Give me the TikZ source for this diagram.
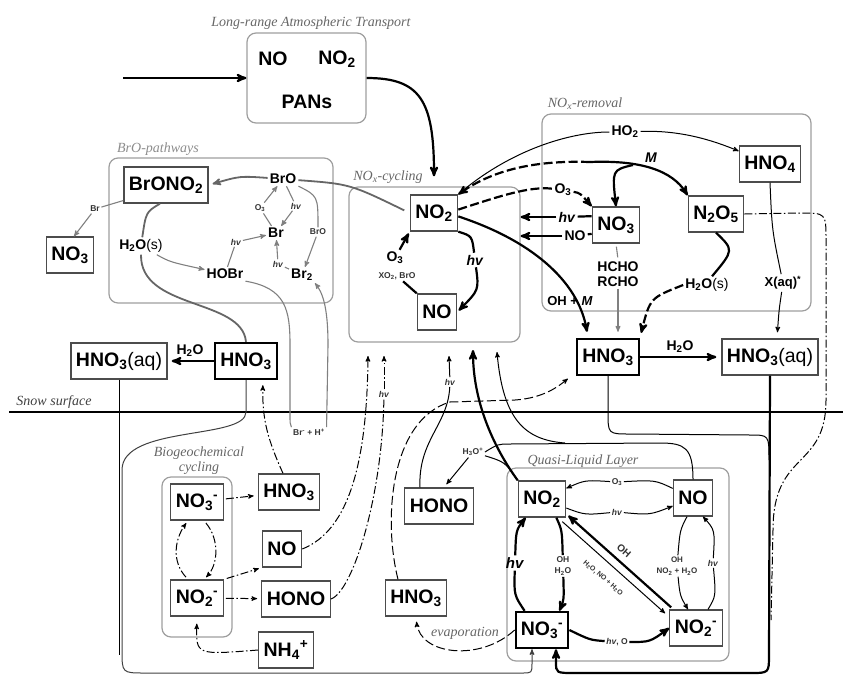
\documentclass[tikz,border=0pt]{standalone}
\usepackage{fontspec}
\setmainfont{Liberation Serif}
\setsansfont{Liberation Sans}
\usetikzlibrary{arrows}

\newcommand{\chsub}[1]{\textsubscript{#1}}
\newcommand{\chsup}[1]{\textsuperscript{#1}}
\newcommand{\hv}{\textit{hv}}

\definecolor{boxline}{gray}{0.3}
\definecolor{grpline}{gray}{0.62}
\definecolor{grptext}{gray}{0.4}
\definecolor{brline}{gray}{0.5}

\tikzset{
  spec/.style={draw=boxline, line width=1.3pt, inner xsep=5pt, inner ysep=3pt,
    minimum height=36pt, font=\sffamily\bfseries\fontsize{19.5}{21}\selectfont},
  specthick/.style={spec, draw=black, line width=2.4pt},
  bare/.style={inner sep=1pt, font=\sffamily\bfseries\fontsize{19.5}{21}\selectfont},
  grp/.style={draw=grpline, line width=1.2pt, rounded corners=9pt},
  grplab/.style={text=grptext, inner sep=1pt, font=\itshape\fontsize{14}{15}\selectfont},
  lab/.style={inner sep=2pt, font=\sffamily\bfseries\fontsize{14}{15}\selectfont},
  lbsmall/.style={inner sep=1.5pt, text=black!80, font=\sffamily\bfseries\fontsize{8.5}{11}\selectfont},
  thk/.style={line width=2.2pt},
  thn/.style={line width=1pt},
  brl/.style={draw=brline, line width=1.1pt},
  brthk/.style={draw=black!60, line width=1.8pt},
  dsh/.style={dash pattern=on 9pt off 3.5pt},
  dshd/.style={line width=1pt, dash pattern=on 8pt off 2.5pt on 1.5pt off 2.5pt},
}

\begin{document}
\begin{tikzpicture}[x=1pt, y=-1pt, >=stealth']
    \useasboundingbox (0,0) rectangle (843,675);

    % long-range transport
    \node[grplab] (lrtlab) at (311,23) {Long-range Atmospheric Transport};
    \node[grp, minimum width=119pt, minimum height=90pt] (lrt) at (306.5,78) {};
    \node[bare] (lrtno) at (273,59) {NO};
    \node[bare] (lrtno2) at (337,59) {NO\chsub{2}};
    \node[bare] (pans) at (307,102) {PANs};
    \coordinate (inflow) at (123,78);

    % NOx-cycling
    \node[grplab] (cyclab) at (388,177) {NO\chsub{x}-cycling};
    \node[grp, minimum width=171pt, minimum height=155pt] (cyc) at (434.5,264.5) {};
    \node[spec] (no2c) at (434,213) {NO\chsub{2}};
    \node[spec] (noc) at (437,312) {NO};
    \node[lab] (o3c) at (395,258) {O\chsub{3}};
    \node[lbsmall] (xo2c) at (397,276) {XO\chsub{2}, BrO};
    \node[lab] (hvc) at (475,260) {\hv};

    % BrO-pathways
    \node[grplab, text=black!45] (brolab) at (158,149) {BrO-pathways};
    \node[grp, minimum width=224pt, minimum height=145pt] (brgrp) at (221,230.5) {};
    \node[spec] (brono2) at (166,185) {BrONO\chsub{2}};
    \node[lab] (bro) at (283,179) {BrO};
    \node[lab] (br) at (276,233) {Br};
    \node[lab] (br2) at (302,275) {Br\chsub{2}};
    \node[lab] (hobr) at (225,274) {HOBr};
    \node[lab] (h2osb) at (141,246) {H\chsub{2}O{\mdseries(s)}};
    \node[lbsmall] (o3b) at (260,208) {O\chsub{3}};
    \node[lbsmall] (hvb1) at (296,206) {\hv};
    \node[lbsmall] (brosm) at (318,232) {BrO};
    \node[lbsmall] (hvb2) at (236,242) {\hv};
    \node[lbsmall] (hvb3) at (278,264) {\hv};
    \node[spec] (no3l) at (70,255) {NO\chsub{3}};
    \node[lbsmall] (brlab) at (95,209) {Br};
    \node[lbsmall] (brh) at (309,432) {Br\chsup{-} + H\chsup{+}};

    % NOx-removal
    \node[grplab] (remlab) at (585,104) {NO\chsub{x}-removal};
    \node[grp, minimum width=269pt, minimum height=197pt] (rem) at (676.5,212.5) {};
    \node[spec] (hno4) at (770,164) {HNO\chsub{4}};
    \node[spec] (no3r) at (616,225) {NO\chsub{3}};
    \node[spec] (n2o5) at (716,214) {N\chsub{2}O\chsub{5}};
    \node[lab] (ho2) at (625,132) {HO\chsub{2}};
    \node[lab] (mlab) at (651,158) {\textit{M}};
    \node[lab] (o3r) at (563,190) {O\chsub{3}};
    \node[lab] (hvr) at (567,217) {\hv};
    \node[lab] (nor) at (575,236) {NO};
    \node[lab, align=center] (ald) at (618,274) {HCHO\\RCHO};
    \node[lab, font=\sffamily\bfseries\fontsize{13}{15}\selectfont] (ohm) at (570,301) {OH + \textit{M}};
    \node[lab] (h2osr) at (707,285) {H\chsub{2}O{\mdseries(s)}};
    \node[lab, font=\sffamily\bfseries\fontsize{13}{15}\selectfont] (xaq) at (783,283) {X(aq)\chsup{*}};
    \coordinate (mfork) at (590,162);
    \coordinate (mbranch) at (633,165);
    \coordinate (n2end) at (771,620);

    % HNO3 above the snow
    \node[specthick] (hno3r) at (608,357) {HNO\chsub{3}};
    \node[spec] (hno3aqr) at (770,357) {HNO\chsub{3}{\mdseries(aq)}};
    \node[lab] (h2or) at (680,347) {H\chsub{2}O};
    \node[specthick] (hno3l) at (246,361) {HNO\chsub{3}};
    \node[spec] (hno3aql) at (119,361) {HNO\chsub{3}{\mdseries(aq)}};
    \node[lab] (h2ol) at (190,351) {H\chsub{2}O};

    % snow surface
    \draw[line width=2pt] (9,412) -- (843,412);
    \node[grplab, text=black!75] (snowlab) at (54,402) {Snow surface};
    \coordinate (lftend) at (119,655);
    \coordinate (rgtjoin) at (769,460);

    % biogeochemical cycling
    \node[grplab, align=center] (biolab) at (199,461) {Biogeochemical\\cycling};
    \node[grp, minimum width=70pt, minimum height=160pt] (biogrp) at (197,557) {};
    \node[spec] (no3b) at (197,502) {NO\chsub{3}\chsup{-}};
    \node[spec] (no2b) at (197,598) {NO\chsub{2}\chsup{-}};
    \node[spec] (hno3b) at (289,492) {HNO\chsub{3}};
    \node[spec] (nob) at (282,549) {NO};
    \node[spec] (honob) at (296,599) {HONO};
    \node[spec] (nh4) at (286,650) {NH\chsub{4}\chsup{+}};
    \node[lbsmall] (hvd) at (384,394) {\hv};
    \coordinate (cyca) at (368,356);
    \coordinate (cycb) at (384,356);

    % gas-phase HONO and HNO3 near the surface
    \node[spec] (honom) at (439,506) {HONO};
    \node[spec] (hno3m) at (416,598) {HNO\chsub{3}};
    \node[lbsmall] (h3o) at (473,452) {H\chsub{3}O\chsup{+}};
    \node[lbsmall] (hvm) at (450,382) {\hv};
    \node[grplab] (evap) at (465,633) {evaporation};
    \coordinate (cycc) at (449,356);
    \coordinate (cycthk) at (473,350);
    \coordinate (cycno) at (497,352);
    \coordinate (jn) at (565,443);

    % quasi-liquid layer
    \node[grplab] (qlllab) at (583,461) {Quasi-Liquid Layer};
    \node[grp, minimum width=222pt, minimum height=193pt] (qll) at (618,564.5) {};
    \node[spec] (no2q) at (542,499) {NO\chsub{2}};
    \node[spec] (noq) at (693,498) {NO};
    \node[specthick] (no3q) at (542,630) {NO\chsub{3}\chsup{-}};
    \node[spec] (nitq) at (696,628) {NO\chsub{2}\chsup{-}};
    \node[lbsmall] (o3q) at (617,482) {O\chsub{3}};
    \node[lbsmall] (hvq1) at (617,512) {\hv};
    \node[lab, font=\sffamily\bfseries\fontsize{15}{16}\selectfont] (hvq) at (515,563) {\hv};
    \node[lbsmall, align=center] (ohq) at (563,566) {OH\\H\chsub{2}O};
    \node[lbsmall, rotate=-41, font=\sffamily\bfseries\fontsize{10}{11}\selectfont] (ohd) at (624,551) {OH};
    \node[lbsmall, rotate=-41, inner sep=0.5pt, font=\sffamily\bfseries\fontsize{7}{8}\selectfont] (h2od) at (603,578) {H\chsub{2}O, NO + H\chsub{2}O};
    \node[lbsmall, align=center, font=\sffamily\bfseries\fontsize{8}{11}\selectfont] (ohr) at (677,566) {OH\\NO\chsub{2} + H\chsub{2}O};
    \node[lbsmall] (hvq2) at (713,563) {\hv};
    \node[lbsmall] (hvo) at (617,642) {\hv, O};

    % connectors: transport and NOx-cycling
    \draw[thk,->] (inflow) -- (lrt.west);
    \draw[thk,->,shorten >=18pt] (lrt.east) .. controls (420,78) and (434,100) .. (no2c.north);
    \draw[thk] (noc.north west) -- (xo2c);
    \draw[thk,->,shorten >=2pt] (o3c) -- (no2c.south west);
    \draw[thk] (no2c.south east) .. controls (472,236) .. (hvc);
    \draw[thk,->,shorten >=2pt] (hvc) .. controls (479,290) .. (noc.east);

    % connectors: BrO-pathways
    \draw[brl] (brono2.200) -- (brlab);
    \draw[brl,->] (brlab) -- ([xshift=4]no3l.north);
    \draw[brthk,->,shorten >=4pt] (bro) .. controls (240,176) .. (brono2.east);
    \draw[brl] (bro.south east) .. controls (318,196) .. (brosm);
    \draw[brl,->] (brosm) -- (br2);
    \draw[brl] (bro) -- (hvb1);
    \draw[brl,->] (hvb1) -- (br);
    \draw[brl] (br) -- (o3b);
    \draw[brl,->] (o3b) -- (bro);
    \draw[brl] (hobr) -- (hvb2);
    \draw[brl,->] (hvb2) -- (br);
    \draw[brl] (br2) -- (hvb3);
    \draw[brl,->] (hvb3) -- (br);
    \draw[brl,->] (h2osb) .. controls (170,262) .. (hobr);
    \draw[brthk] ([xshift=-6]brono2.south) .. controls (146,212) .. (h2osb);
    \draw[brthk] (h2osb.south) .. controls (140,310) and (242,298) .. (hno3l.north);
    \draw[brl] (hobr.south east) .. controls (286,288) and (290,310) .. (290,345) -- (290,412) .. controls (290,424) .. (brh.north west);
    \draw[brl,->] (brh.north east) -- (328,345) .. controls (328,305) and (322,292) .. (br2.south east);
    \draw[brthk,shorten >=6pt] (bro) .. controls (350,184) .. (no2c.west);

    % connectors: NOx-removal
    \draw[thn] (no2c.north east) .. controls (510,150) and (570,132) .. (ho2);
    \draw[thn,->] (ho2) .. controls (680,130) and (712,140) .. (hno4);
    \draw[thk,dsh,->] (mfork) .. controls (530,160) and (490,172) .. (no2c.north east);
    \draw[thk,->] (mfork) .. controls (640,160) and (672,170) .. (n2o5.north west);
    \draw[thk,->] (mbranch) .. controls (612,170) .. (no3r.north);
    \draw[thk,dsh] (no2c.8) .. controls (500,196) and (530,186) .. (o3r);
    \draw[thk,dsh,->] (o3r) .. controls (580,193) .. (no3r.north west);
    \draw[thk] (no3r.160) -- (hvr);
    \draw[thk,->] (hvr) -- (cyc.east |- hvr);
    \draw[thk] (no3r.200) -- (nor);
    \draw[thk,->] (nor) -- (cyc.east |- nor);
    \draw[brl,shorten <=3pt,shorten >=2pt] (no3r.south) -- (ald.north);
    \draw[brl,->,shorten >=6pt] (ald.south) -- (hno3r.north -| ald);
    \draw[thk,->,shorten >=6pt] (no2c.-8) .. controls (530,240) and (578,280) .. ([xshift=12]hno3r.north west);
    \draw[thk] (n2o5.south) .. controls (734,250) .. (h2osr.60);
    \draw[thk,dsh,->,shorten >=5pt] (h2osr.west) .. controls (650,298) .. (hno3r.north east);
    \draw[thn] (hno4.south) .. controls (772,230) .. (xaq);
    \draw[thn,->,shorten >=6pt] (xaq) .. controls (779,310) .. ([xshift=7]hno3aqr.north);
    \draw[dshd] (n2o5.east) -- (800,213) .. controls (826,213) .. (826,240) -- (826,400) .. controls (826,470) and (773,450) .. (773,530) -- (n2end);

    % connectors: HNO3 and the snowpack outline
    \draw[thk,->,shorten >=5pt] (hno3r) -- (hno3aqr);
    \draw[thk,->,shorten >=4pt] (hno3l) -- (hno3aql);
    \draw[thn] (hno3aql.south) -- (lftend);
    \draw[thn,draw=black!75,->] (hno3l.south) -- (246,412) .. controls (246,440) and (122,425) .. (122,470) -- (122,650) .. controls (122,673) .. (145,673) -- (522,673) .. controls (532,673) .. (532,663) -- ([xshift=-10]no3q.south);
    \draw[thn] (hno3r.south) -- (608,412) .. controls (608,434) .. (630,434) -- (750,435) .. controls (769,435) .. (rgtjoin);
    \draw[thk,->] (hno3aqr.south) -- (769,655) .. controls (769,673) .. (750,673) -- (575,673) .. controls (556,673) .. (556,662) -- ([xshift=14]no3q.south);

    % connectors: biogeochemical cycling
    \draw[dshd,->,shorten >=4pt,shorten <=2pt] (no3b) -- (hno3b);
    \draw[dshd,->,shorten >=4pt,shorten <=2pt] (no2b) -- (honob);
    \draw[dshd,->,shorten >=3pt,shorten <=3pt] (no2b.north east) -- (nob.south west);
    \draw[dshd,->,shorten <=3pt,shorten >=3pt] ([xshift=-9]no2b.north) .. controls (172,562) and (174,540) .. ([xshift=-9]no3b.south);
    \draw[dshd,->,shorten <=3pt,shorten >=3pt] ([xshift=7]no3b.south) .. controls (220,540) and (218,565) .. ([xshift=7]no2b.north);
    \draw[dshd,->,shorten >=7pt] (nh4.west) .. controls (196,655) .. (no2b.south);
    \draw[dshd,->,shorten >=5pt] ([xshift=-6]hno3b.north) .. controls (268,440) and (262,420) .. ([xshift=17]hno3l.south);
    \draw[dshd,->] (nob.east) .. controls (350,530) and (367,460) .. (cyca);
    \draw[dshd] (honob.east) .. controls (352,592) and (382,500) .. (hvd);
    \draw[dshd,->] (hvd) -- (cycb);

    % connectors: gas phase near the surface
    \draw[thn,->,shorten >=4pt] (h3o) -- ([xshift=-30]honom.north east);
    \draw[thn] (h3o) .. controls (505,462) .. (no2q.north west);
    \draw[thn] ([xshift=-19]honom.north) .. controls (418,440) and (448,425) .. (hvm);
    \draw[thn,->] (hvm) -- (cycc);
    \draw[thn] (noq.north) .. controls (693,448) and (685,443) .. (660,443) -- (510,444) .. controls (498,444) .. (h3o.east);
    \draw[thn,->] (jn) .. controls (525,440) and (503,420) .. (cycno);
    \draw[thk,->] (no2q.north west) .. controls (492,445) and (473,400) .. (cycthk);
    \draw[thn,dsh,->,shorten >=4pt] ([xshift=-18]hno3m.north) .. controls (383,520) and (390,420) .. (450,402) -- (515,400) .. controls (545,398) and (560,385) .. ([xshift=-5]hno3r.south west);
    \draw[thn,dsh,->,shorten >=5pt] (no3q.west) .. controls (480,662) and (420,655) .. (hno3m.south);

    % connectors: quasi-liquid layer
    \draw[thn] (noq) .. controls (655,480) .. (o3q);
    \draw[thn,->] (o3q) .. controls (585,480) .. (no2q);
    \draw[thn] (no2q) .. controls (585,515) .. (hvq1);
    \draw[thn,->] (hvq1) .. controls (650,515) .. (noq);
    \draw[thk] ([xshift=10]no3q.north west) .. controls (514,595) .. (hvq);
    \draw[thk,->] (hvq) .. controls (516,530) .. ([xshift=8]no2q.south west);
    \draw[thk] ([xshift=-10]no2q.south east) .. controls (562,530) .. (ohq);
    \draw[thk,->] (ohq) .. controls (564,600) .. ([xshift=-10]no3q.north east);
    \draw[thk,->] ([shift={(2,-2)}]nitq.north west) -- ([shift={(2,-2)}]no2q.south east);
    \draw[thn,->] ([shift={(-4,4)}]no2q.south east) -- ([shift={(-4,4)}]nitq.north west);
    \draw[thn] ([xshift=-6]noq.south) .. controls (680,530) .. (ohr);
    \draw[thn,->] (ohr) .. controls (680,596) .. ([xshift=-8]nitq.north);
    \draw[thn] ([xshift=12]nitq.north) .. controls (716,596) .. (hvq2);
    \draw[thn,->] (hvq2) .. controls (715,530) .. ([xshift=10]noq.south);
    \draw[thk] (no3q.east) .. controls (590,640) .. (hvo);
    \draw[thk,->] (hvo) .. controls (650,642) .. (nitq.west);
\end{tikzpicture}
\end{document}
